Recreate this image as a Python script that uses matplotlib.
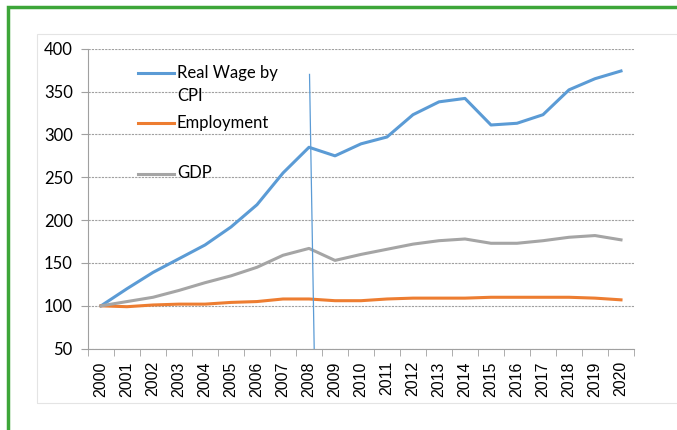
import numpy as np
import matplotlib.pyplot as plt
from matplotlib.patches import Rectangle
from matplotlib.ticker import FixedLocator

years = [str(y) for y in range(2000, 2021)]
real_wage = [100, 120, 139, 155, 171, 192, 218, 255, 285, 275, 289, 297,
             323, 338, 342, 311, 313, 323, 352, 365, 374]
employment = [100, 99, 101, 102, 102, 104, 105, 108, 108, 106, 106, 108,
              109, 109, 109, 110, 110, 110, 110, 109, 107]
gdp = [100, 105, 110, 118, 127, 135, 145, 159, 167, 153, 160, 166,
       172, 176, 178, 173, 173, 176, 180, 182, 177]
# hand drawn marker line near 2008
marker_x = [8.02, 8.2]
marker_y = [370, 50]

series_names = ['Real Wage by\nCPI', 'Employment', 'GDP']
colors = ['#5b9bd5', '#ed7d31', '#a5a5a5']


def main():
    plt.rcParams['font.family'] = ['Lato', 'DejaVu Sans']
    fig = plt.figure(figsize=(6.77, 4.30), dpi=100)
    fig.patches.append(Rectangle((8 / 677, -0.1), 1.0, 1 - 7 / 430 + 0.1,
                                 transform=fig.transFigure, fill=False,
                                 edgecolor='#3da639', linewidth=2.5))
    fig.patches.append(Rectangle((37 / 677, 1 - 403 / 430), 1.0, (403 - 34) / 430,
                                 transform=fig.transFigure, fill=False,
                                 edgecolor='#e4e4e4', linewidth=0.8))

    ax = fig.add_axes([88 / 677, 1 - 348.7 / 430, (634 - 88) / 677, 300 / 430])
    x = np.arange(len(years))
    for vals, c in zip([real_wage, employment, gdp], colors):
        ax.plot(x, vals, color=c, lw=2.2)
    ax.plot(marker_x, marker_y, color='#5b9bd5', lw=0.9)

    ax.set_xlim(-0.5, len(years) - 0.5)
    ax.set_ylim(50, 400)
    ax.set_yticks(range(50, 401, 50))
    ax.set_xticks(x)
    ax.set_xticklabels(years, rotation=90, fontsize=11.5,
                       family=['Liberation Sans', 'DejaVu Sans'])
    ax.xaxis.set_minor_locator(FixedLocator(np.arange(-0.5, len(years), 1)))
    ax.tick_params(axis='x', which='major', length=0, pad=9)
    ax.tick_params(axis='x', which='minor', length=5, color='#a0a0a0')
    ax.tick_params(axis='y', length=5, color='#a0a0a0', pad=6, labelsize=12)
    ax.yaxis.grid(True, linestyle=(0, (2, 1)), color='#a0a0a0', lw=0.8)
    ax.set_axisbelow(True)
    for s in ['top', 'right']:
        ax.spines[s].set_visible(False)
    for s in ['left', 'bottom']:
        ax.spines[s].set_color('#a0a0a0')

    # legend drawn like the Excel one: handle lines up with first text line
    leg_y = [0.919, 0.752, 0.584]
    for name, c, ly in zip(series_names, colors, leg_y):
        ax.plot([0.0916, 0.1575], [ly, ly], color=c, lw=2.2,
                transform=ax.transAxes, clip_on=False)
        for i, line in enumerate(name.split('\n')):
            ax.text(0.163, ly - i * 0.078, line, transform=ax.transAxes,
                    fontsize=12, va='center', ha='left')

    fig.savefig('out.png', dpi=100)


if __name__ == "__main__":
    main()
